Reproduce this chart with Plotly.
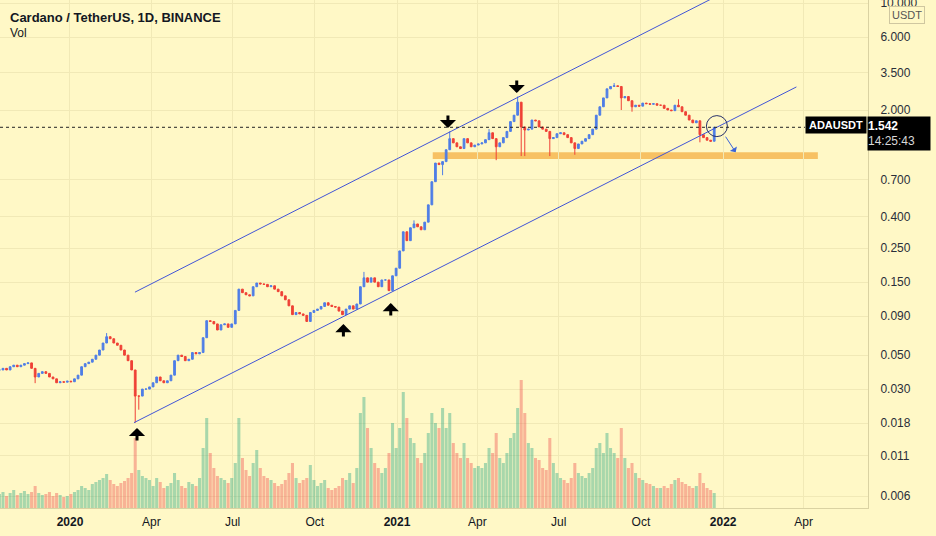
import math
import pandas as pd
import plotly.graph_objects as go

# ---------------- data ----------------
start_date = "2019-10-14"
step_days = 4

closes = [
    0.040, 0.041, 0.040, 0.042, 0.043, 0.042, 0.043, 0.044, 0.0445, 0.041,
    0.036, 0.038, 0.039, 0.038, 0.036, 0.035, 0.0330, 0.0335, 0.0333, 0.0338,
    0.0335, 0.035, 0.037, 0.042, 0.044, 0.045, 0.047, 0.050, 0.054, 0.060,
    0.066, 0.064, 0.060, 0.058, 0.054, 0.050, 0.046, 0.040, 0.027, 0.027,
    0.030, 0.030, 0.031, 0.033, 0.036, 0.034, 0.033, 0.034, 0.037, 0.046,
    0.050, 0.049, 0.046, 0.047, 0.052, 0.051, 0.052, 0.065, 0.084, 0.083,
    0.080, 0.073, 0.079, 0.080, 0.076, 0.080, 0.098, 0.135, 0.128, 0.124,
    0.122, 0.140, 0.148, 0.146, 0.145, 0.140, 0.142, 0.135, 0.130, 0.122,
    0.115, 0.105, 0.092, 0.095, 0.093, 0.091, 0.083, 0.095, 0.098, 0.100,
    0.104, 0.110, 0.106, 0.104, 0.103, 0.097, 0.092, 0.100, 0.105, 0.100,
    0.108, 0.140, 0.160, 0.150, 0.160, 0.150, 0.140, 0.155, 0.155, 0.132,
    0.165, 0.185, 0.240, 0.320, 0.280, 0.340, 0.360, 0.345, 0.330, 0.370,
    0.480, 0.680, 0.900, 0.880, 0.920, 1.10, 1.30, 1.22, 1.15, 1.12,
    1.30, 1.22, 1.15, 1.18, 1.20, 1.22, 1.28, 1.42, 1.30, 1.15,
    1.22, 1.32, 1.45, 1.68, 1.85, 2.25, 1.55, 1.48, 1.50, 1.72,
    1.70, 1.55, 1.50, 1.45, 1.30, 1.32, 1.40, 1.42, 1.38, 1.32,
    1.22, 1.12, 1.20, 1.25, 1.30, 1.38, 1.50, 1.85, 2.10, 2.40,
    2.75, 2.85, 2.88, 2.85, 2.40, 2.45, 2.30, 2.10, 2.15, 2.12,
    2.22, 2.20, 2.18, 2.20, 2.15, 2.15, 2.05, 2.00, 1.98, 2.15,
    2.10, 1.95, 1.85, 1.72, 1.65, 1.70, 1.38, 1.32, 1.27, 1.25,
    1.542,
]

volume = [
    14, 16, 12, 15, 18, 13, 15, 17, 14, 16,
    22, 15, 13, 14, 16, 12, 15, 13, 11, 12,
    14, 16, 18, 22, 20, 18, 24, 26, 28, 30,
    34, 28, 24, 22, 25, 27, 30, 35, 70, 38,
    32, 30, 28, 22, 30, 26, 20, 22, 25, 35,
    28, 22, 20, 26, 24, 22, 30, 60, 90, 55,
    40, 32, 30, 28, 25, 30, 45, 90, 50, 38,
    32, 45, 58, 40, 32, 30, 28, 25, 22, 24,
    28, 35, 45, 30, 25, 28, 30, 43, 28, 22,
    25, 28, 20, 18, 20, 22, 30, 28, 35, 25,
    40, 95, 111, 80, 60, 45, 40, 35, 40, 55,
    85, 60, 80, 116, 90, 70, 65, 50, 45, 55,
    75, 95, 85, 80, 100, 80, 95, 65, 55, 50,
    65, 50, 45, 40, 42, 40, 45, 60, 55, 75,
    50, 45, 55, 70, 75, 100, 128, 95, 65, 60,
    50, 48, 40, 38, 70, 45, 35, 30, 28, 25,
    30, 45, 35, 32, 30, 35, 40, 60, 65, 55,
    75, 60, 55, 50, 80, 50, 40, 45, 35, 30,
    28, 25, 24, 22, 20, 20, 22, 20, 24, 28,
    30, 26, 24, 22, 20, 22, 35, 25, 20, 18,
    15,
]

wick_high = {"2020-02-11": 0.0697, "2020-11-25": 0.175, "2021-01-20": 0.38,
             "2021-03-01": 1.45, "2021-04-14": 1.50, "2021-05-16": 2.45,
             "2021-09-01": 3.0, "2021-11-12": 2.35}
wick_low = {"2019-11-23": 0.0328, "2020-03-14": 0.0181, "2020-03-18": 0.022,
            "2021-02-21": 0.75, "2021-04-22": 0.94, "2021-05-20": 1.0,
            "2021-05-24": 1.0, "2021-06-21": 1.0, "2021-07-19": 1.02,
            "2021-09-09": 2.0, "2021-09-21": 1.95, "2021-12-06": 1.23}

last_price = 1.542
last_label = "ADAUSDT"
countdown = "14:25:43"

y_ticks = [10, 6, 3.5, 2, 0.7, 0.4, 0.25, 0.15, 0.09, 0.05, 0.03, 0.018, 0.011, 0.006]
x_ticks = ["2020-01-01", "2020-04-01", "2020-07-01", "2020-10-01", "2021-01-01",
           "2021-04-01", "2021-07-01", "2021-10-01", "2022-01-01", "2022-04-01"]
x_tick_text = ["<b>2020</b>", "Apr", "Jul", "Oct", "<b>2021</b>", "Apr", "Jul", "Oct",
               "<b>2022</b>", "Apr"]

# drawing overlays (trend channel, support zone, markers)
upper_x = ["2020-03-13 17:00", "2022-01-19"]
upper_y = [0.129, 13.18]
lower_x = ["2020-03-12 15:00", "2022-03-24"]
lower_y = [0.0181, 2.83]
zone_x = ["2021-02-10", "2022-04-17"]
zone_y = [0.957, 1.06]
up_arrows = [("2020-03-16", 0.0167), ("2020-11-02", 0.0798), ("2020-12-25", 0.1094)]
down_arrows = [("2021-02-27", 1.524), ("2021-05-15", 2.58)]
circle_at = ("2021-12-25", 1.57)
blue_arrow_tip = ("2022-01-15", 1.06)

# ---------------- derived ----------------
dates = pd.date_range(start_date, periods=len(closes), freq=f"{step_days}D")
opens = [closes[0]] + closes[:-1]
highs, lows = [], []
for d, o, c in zip(dates, opens, closes):
    k = d.strftime("%Y-%m-%d")
    highs.append(max(o, c, wick_high.get(k, 0)))
    lows.append(min(o, c, wick_low.get(k, 1e9)))
vol_colors = ["rgba(38,166,130,0.40)" if c >= o else "rgba(239,83,80,0.42)"
              for o, c in zip(opens, closes)]

BG = "#FFF8C6"
GRID = "#F1E9B6"
UP = "#4F7EE6"
DOWN = "#EF4136"
CH = "#4255D6"
FONT = "Liberation Sans"

PW, PH = 868, 508  # plot area in px


def px(xp):
    return xp / PW


def py(yp):
    return 1 - yp / PH


fig = go.Figure()
fig.add_trace(go.Bar(x=dates, y=volume, marker=dict(color=vol_colors, line=dict(width=0)),
                     yaxis="y2", hoverinfo="skip"))
fig.add_trace(go.Scatter(x=upper_x, y=upper_y, mode="lines", line=dict(color=CH, width=1),
                         hoverinfo="skip"))
fig.add_trace(go.Scatter(x=lower_x, y=lower_y, mode="lines", line=dict(color=CH, width=1),
                         hoverinfo="skip"))
fig.add_trace(go.Candlestick(
    x=dates, open=opens, high=highs, low=lows, close=closes,
    increasing=dict(line=dict(color=UP, width=1), fillcolor=UP),
    decreasing=dict(line=dict(color=DOWN, width=1), fillcolor=DOWN),
    whiskerwidth=0, hoverinfo="skip"))
fig.add_trace(go.Scatter(x=[circle_at[0]], y=[circle_at[1]], mode="markers",
                         marker=dict(symbol="circle-open", size=21,
                                     line=dict(color="#27306A", width=1), color="#27306A"),
                         hoverinfo="skip"))

shapes = [
    dict(type="rect", xref="x", yref="y", x0=zone_x[0], x1=zone_x[1], y0=zone_y[0], y1=zone_y[1],
         fillcolor="#F7BE5E", line=dict(width=0), layer="below", opacity=0.95),
    dict(type="line", xref="paper", yref="y", x0=0, x1=px(805), y0=last_price, y1=last_price,
         line=dict(color="#222", width=1, dash="dot")),
]

annotations = [
    dict(text="Cardano / TetherUS, 1D, BINANCE", xref="paper", yref="paper", x=px(8), y=py(17),
         xanchor="left", yanchor="middle", showarrow=False,
         font=dict(family=FONT, size=13, color="#131722", weight="bold")),
    dict(text="Vol", xref="paper", yref="paper", x=px(8), y=py(33),
         xanchor="left", yanchor="middle", showarrow=False,
         font=dict(family=FONT, size=12, color="#131722")),
    dict(text="<b>" + last_label + "</b>", xref="paper", yref="paper", x=px(836), y=py(125),
         xanchor="center", yanchor="middle", showarrow=False, bgcolor="#000", width=60, height=16,
         borderpad=0, font=dict(family=FONT, size=11, color="#fff")),
    dict(text="<b>%.3f</b><br><span style='color:#d8d8d8'>%s</span>" % (last_price, countdown),
         xref="paper", yref="paper", x=px(899), y=py(133), xanchor="center", yanchor="middle",
         showarrow=False, bgcolor="#000", width=62, height=33, borderpad=0, align="left",
         font=dict(family=FONT, size=12, color="#fff")),
    dict(text="USDT", xref="paper", yref="paper", x=px(907), y=py(15), xanchor="center",
         yanchor="middle", showarrow=False, bgcolor=BG, bordercolor="#CFC7A0", borderwidth=1,
         borderpad=2, font=dict(family=FONT, size=11, color="#555")),
]
for d, p in up_arrows:
    annotations.append(dict(x=d, y=math.log10(p), xref="x", yref="y", text="", showarrow=True,
                            ax=0, ay=14, arrowhead=1, arrowsize=0.9, arrowwidth=3,
                            arrowcolor="#000"))
for d, p in down_arrows:
    annotations.append(dict(x=d, y=math.log10(p), xref="x", yref="y", text="", showarrow=True,
                            ax=0, ay=-14, arrowhead=1, arrowsize=0.9, arrowwidth=3,
                            arrowcolor="#000"))
annotations.append(dict(x=blue_arrow_tip[0], y=math.log10(blue_arrow_tip[1]), xref="x", yref="y",
                        text="", showarrow=True, ax=-11, ay=-17, arrowhead=1, arrowsize=1.4,
                        arrowwidth=1, arrowcolor="#3C64D8"))

y_lo, y_hi = -2.300, 1.020
fig.update_layout(
    width=936, height=536, margin=dict(l=0, r=68, t=0, b=28, autoexpand=False),
    paper_bgcolor=BG, plot_bgcolor=BG, showlegend=False,
    shapes=shapes, annotations=annotations, bargap=0.15,
    xaxis=dict(type="date", range=["2019-10-14 16:00", "2022-06-12 03:00"], automargin=False,
               tickvals=x_ticks, ticktext=x_tick_text, showgrid=True, gridcolor=GRID,
               gridwidth=1, ticks="", showline=True, linecolor="#DAD2A2", linewidth=1,
               zeroline=False, rangeslider=dict(visible=False), ticklabelstandoff=3,
               tickfont=dict(family=FONT, size=12, color="#131722"), fixedrange=True),
    yaxis=dict(type="log", range=[y_lo, y_hi], side="right", tickvals=y_ticks, automargin=False,
               ticktext=["%.3f" % v for v in y_ticks], showgrid=True, gridcolor=GRID,
               ticks="", showline=True, linecolor="#DAD2A2", linewidth=1, zeroline=False,
               ticklabelstandoff=9, ticklabeloverflow="allow",
               tickfont=dict(family=FONT, size=12, color="#2a2e39")),
    yaxis2=dict(overlaying="y", range=[0, max(volume) * PH / 128], visible=False,
                showgrid=False, automargin=False),
)

fig.write_html("out.html", config={"displayModeBar": False},
               post_script="document.body.style.margin='0px';document.body.style.background='%s';" % BG)
